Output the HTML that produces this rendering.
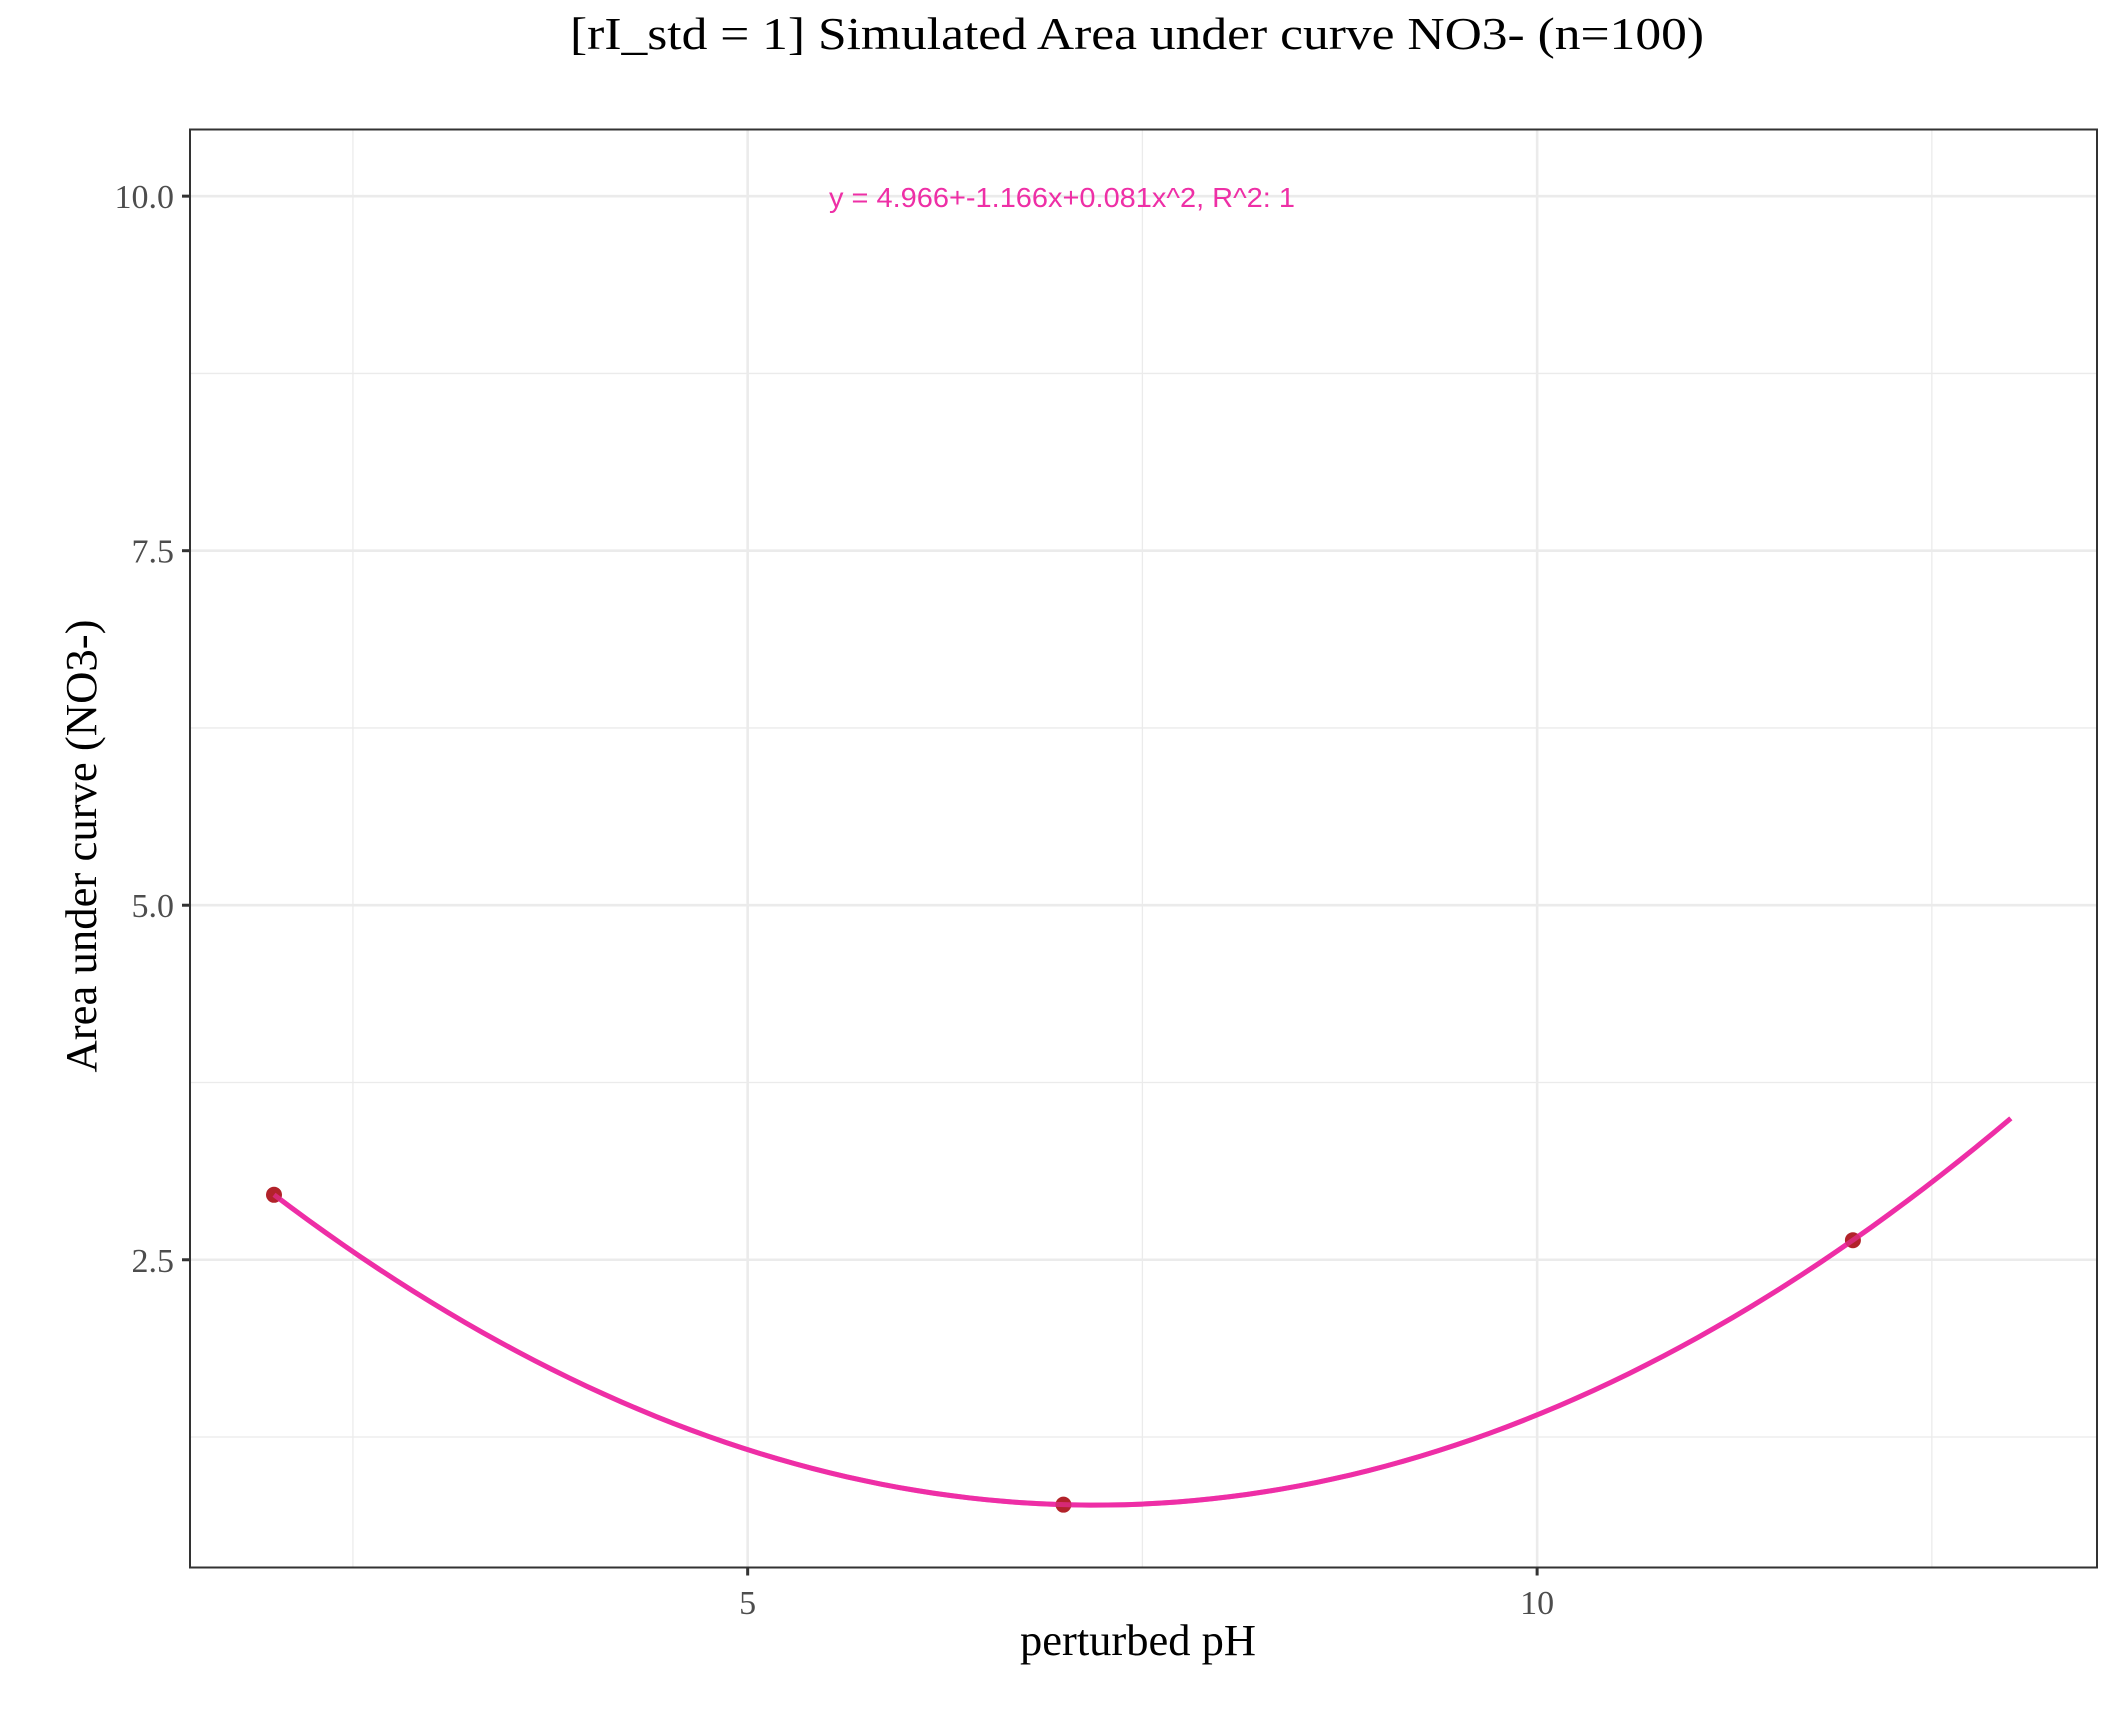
<!DOCTYPE html>
<html><head><meta charset="utf-8"><style>
html,body{margin:0;padding:0;background:#fff;}
svg{display:block;}
text{font-family:"Liberation Serif",serif;}
</style></head><body>
<svg id="chart" width="2112" height="1728" viewBox="0 0 2112 1728" xmlns="http://www.w3.org/2000/svg">
<rect x="0" y="0" width="2112" height="1728" fill="#fff"/>
<text x="1137" y="49" font-size="46" text-anchor="middle" textLength="1134" lengthAdjust="spacingAndGlyphs" fill="#000">[rI_std = 1] Simulated Area under curve NO3- (n=100)</text>
<g id="grid"></g>
<g id="marks"></g>
<rect x="190" y="129.5" width="1907" height="1438" fill="none" stroke="#333" stroke-width="2"/>
<g id="axes"></g>
<text x="1138" y="1655" font-size="44" text-anchor="middle" textLength="236" lengthAdjust="spacingAndGlyphs" fill="#000">perturbed pH</text>
<text transform="translate(96,846) rotate(-90)" font-size="44" text-anchor="middle" textLength="453" lengthAdjust="spacingAndGlyphs" fill="#000">Area under curve (NO3-)</text>
<text x="829" y="207" font-size="28" textLength="466" lengthAdjust="spacingAndGlyphs" fill="#EE2FA6" style="font-family:'Liberation Sans',sans-serif">y = 4.966+-1.166x+0.081x^2,  R^2: 1</text>
</svg>
<script>
const pointX = [2, 7, 12];
const pointY = [2.958, 0.773, 2.638];
const coefs = [4.966, -1.166, 0.081];
const fitRange = [2, 13];
const xTicks = [5, 10];
const xTickLabels = ["5", "10"];
const xMinor = [2.5, 7.5, 12.5];
const yTicks = [2.5, 5.0, 7.5, 10.0];
const yTickLabels = ["2.5", "5.0", "7.5", "10.0"];
const yMinor = [1.25, 3.75, 6.25, 8.75];

const L=190, R=2097, T=129.5, B=1567.5;
const xMin=1.468, xMax=13.546, yMin=0.33, yMax=10.47;
const sx = v => L + (v - xMin) / (xMax - xMin) * (R - L);
const sy = v => B - (v - yMin) / (yMax - yMin) * (B - T);
const NS = "http://www.w3.org/2000/svg";
function mk(tag, attrs, parent){const e=document.createElementNS(NS,tag);for(const k in attrs)e.setAttribute(k,attrs[k]);parent.appendChild(e);return e;}
const grid=document.getElementById('grid'), marks=document.getElementById('marks'), axes=document.getElementById('axes');

xMinor.forEach(v=>{if(sx(v)>L&&sx(v)<R){const e=mk('line',{x1:sx(v),x2:sx(v),y1:T,y2:B,stroke:'#ebebeb','stroke-width':1.3},grid);

}});
yMinor.forEach(v=>{const e=mk('line',{x1:L,x2:R,y1:sy(v),y2:sy(v),stroke:'#ebebeb','stroke-width':1.3},grid);

});
xTicks.forEach(v=>{const e=mk('line',{x1:sx(v),x2:sx(v),y1:T,y2:B,stroke:'#ebebeb','stroke-width':2.6},grid);

});
yTicks.forEach(v=>{const e=mk('line',{x1:L,x2:R,y1:sy(v),y2:sy(v),stroke:'#ebebeb','stroke-width':2.6},grid);

});

let d='';
const N=100;
for(let i=0;i<=N;i++){const x=fitRange[0]+(fitRange[1]-fitRange[0])*i/N;const y=coefs[0]+coefs[1]*x+coefs[2]*x*x;d+=(i?'L':'M')+sx(x).toFixed(2)+','+sy(y).toFixed(2);}
const curve=mk('path',{d:d,fill:'none',stroke:'#EE2FA6','stroke-width':5},marks);


pointX.forEach((x,i)=>{const c=mk('circle',{cx:sx(x),cy:sy(pointY[i]),r:8,fill:'#B2222A'},marks);

});
const curve2=mk('path',{d:d,fill:'none',stroke:'#EE2FA6','stroke-width':5,'stroke-opacity':0.6},marks);



xTicks.forEach((v,i)=>{const t=mk('line',{x1:sx(v),x2:sx(v),y1:B,y2:B+8,stroke:'#333','stroke-width':3},axes);


const l=mk('text',{x:sx(v),y:1614,'font-size':34,'text-anchor':'middle',fill:'#4d4d4d'},axes);l.textContent=xTickLabels[i];

});
yTicks.forEach((v,i)=>{const t=mk('line',{x1:L-8,x2:L,y1:sy(v),y2:sy(v),stroke:'#333','stroke-width':3},axes);


const l=mk('text',{x:174,y:sy(v)+12,'font-size':34,'text-anchor':'end',fill:'#4d4d4d'},axes);l.textContent=yTickLabels[i];

});
</script>
</body></html>
